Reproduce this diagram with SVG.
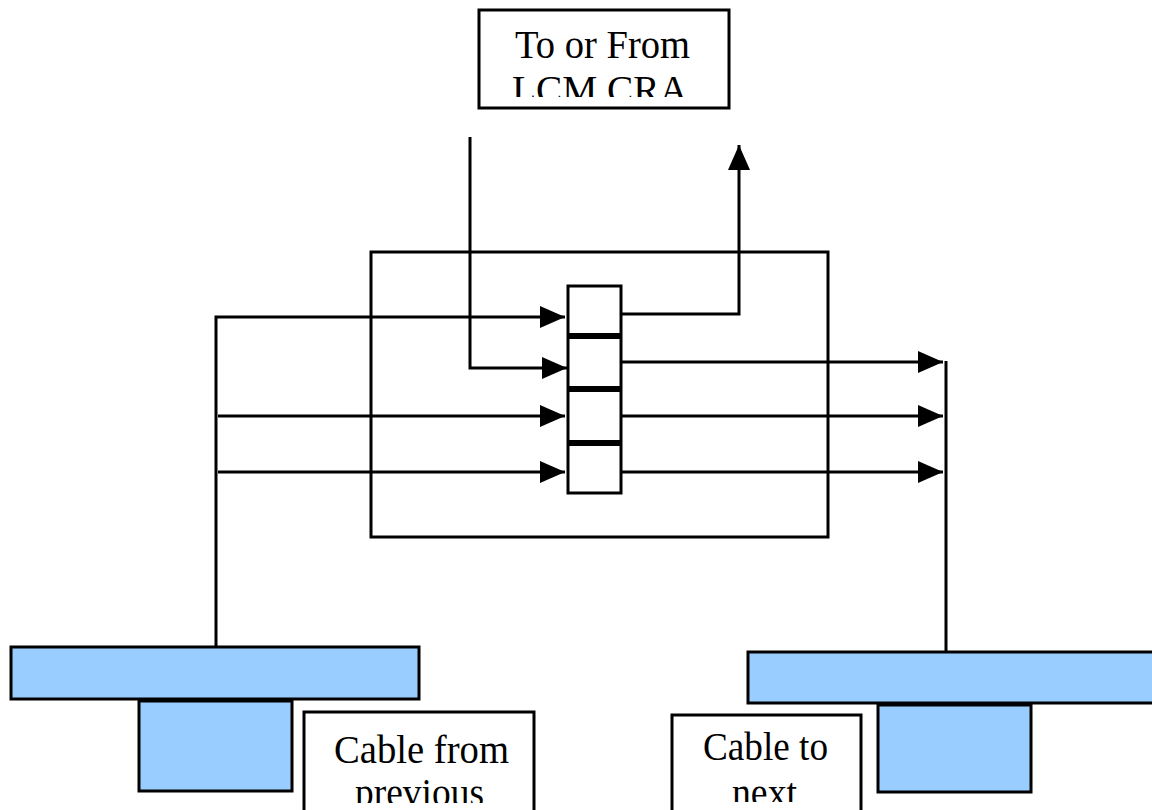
<svg xmlns="http://www.w3.org/2000/svg" width="1152" height="810" viewBox="0 0 1152 810">
  <style>
    .box { fill: #ffffff; stroke: #000000; stroke-width: 3; }
    .blue { fill: #99ccff; stroke: #000000; stroke-width: 3; }
    .wire { fill: none; stroke: #000000; stroke-width: 3; }
    .sep { stroke: #000000; stroke-width: 6; }
    .lbl { font-family: "Liberation Serif", "Times New Roman", serif; font-size: 39px; fill: #000000; }
  </style>
  <defs>
    <marker id="arrow" markerUnits="userSpaceOnUse" markerWidth="26" markerHeight="24" viewBox="0 0 26 24" refX="25" refY="12" orient="auto">
      <path d="M0,1 L25,12 L0,23 Z" fill="#000000"/>
    </marker>
    <clipPath id="clipTop"><rect x="480" y="11" width="248" height="86"/></clipPath>
    <clipPath id="clipFrom"><rect x="306" y="714" width="227" height="89"/></clipPath>
    <clipPath id="clipTo"><rect x="674" y="716" width="186" height="86"/></clipPath>
  </defs>

  <rect width="1152" height="810" fill="#ffffff"/>

  <!-- central unit -->
  <g id="unit">
    <rect class="box" x="371" y="252" width="457" height="285"/>
  </g>

  <!-- four-slot stack -->
  <g id="stack">
    <rect class="box" x="568" y="286" width="53" height="207"/>
    <line class="sep" x1="568" y1="336" x2="621" y2="336"/>
    <line class="sep" x1="568" y1="389" x2="621" y2="389"/>
    <line class="sep" x1="568" y1="443" x2="621" y2="443"/>
  </g>

  <!-- connectors -->
  <g id="connectors">
    <!-- inputs from the previous cable -->
    <polyline class="wire" points="216,647 216,317 565,317" marker-end="url(#arrow)"/>
    <polyline class="wire" points="470,137 470,368 567,368" marker-end="url(#arrow)"/>
    <line class="wire" x1="218" y1="416" x2="565" y2="416" marker-end="url(#arrow)"/>
    <line class="wire" x1="218" y1="472" x2="565" y2="472" marker-end="url(#arrow)"/>
    <!-- outputs -->
    <polyline class="wire" points="621,314 739,314 739,145" marker-end="url(#arrow)"/>
    <line class="wire" x1="621" y1="362" x2="943" y2="362" marker-end="url(#arrow)"/>
    <line class="wire" x1="621" y1="416" x2="943" y2="416" marker-end="url(#arrow)"/>
    <line class="wire" x1="621" y1="472" x2="943" y2="472" marker-end="url(#arrow)"/>
    <line class="wire" x1="946" y1="361" x2="946" y2="652"/>
  </g>

  <!-- top label -->
  <g id="lcm">
    <rect class="box" x="479" y="10" width="250" height="98"/>
    <g clip-path="url(#clipTop)">
      <text class="lbl" x="515" y="58" textLength="175" lengthAdjust="spacingAndGlyphs">To or From</text>
      <text class="lbl" x="512" y="103" textLength="176" lengthAdjust="spacingAndGlyphs">LCM CRA</text>
    </g>
  </g>

  <!-- left connector -->
  <g id="connector-left">
    <rect class="blue" x="11" y="647" width="408" height="52"/>
    <rect class="blue" x="139" y="701" width="153" height="90"/>
  </g>

  <!-- right connector -->
  <g id="connector-right">
    <rect class="blue" x="748" y="652" width="410" height="51"/>
    <rect class="blue" x="878" y="705" width="153" height="87"/>
  </g>

  <!-- cable labels -->
  <g id="label-from">
    <rect class="box" x="304" y="712" width="230" height="110"/>
    <g clip-path="url(#clipFrom)">
      <text class="lbl" x="334" y="763" textLength="175" lengthAdjust="spacingAndGlyphs">Cable from</text>
      <text class="lbl" x="355" y="806" textLength="129" lengthAdjust="spacingAndGlyphs">previous</text>
    </g>
  </g>
  <g id="label-to">
    <rect class="box" x="672" y="715" width="189" height="110"/>
    <g clip-path="url(#clipTo)">
      <text class="lbl" x="703" y="760" textLength="125" lengthAdjust="spacingAndGlyphs">Cable to</text>
      <text class="lbl" x="732" y="806" textLength="65" lengthAdjust="spacingAndGlyphs">next</text>
    </g>
  </g>
</svg>
